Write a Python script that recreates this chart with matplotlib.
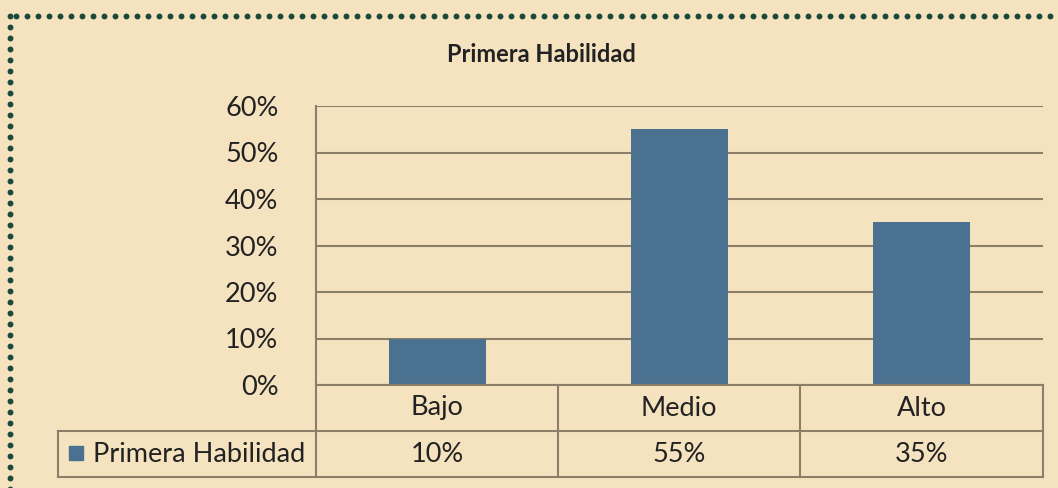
import matplotlib
matplotlib.use("Agg")
import matplotlib.pyplot as plt
import numpy as np
from matplotlib.patches import Rectangle

categories = ["Bajo", "Medio", "Alto"]
values = [0.10, 0.55, 0.35]
series_name = "Primera Habilidad"
title = "Primera Habilidad"
yticks = [0.0, 0.1, 0.2, 0.3, 0.4, 0.5, 0.6]

W, H = 1058, 488
BG = "#F5E3C0"
BAR = "#4A718F"
LINE = "#8C7F68"
TXT = "#222222"
FONT = "Lato"
FS = 19.5

fig = plt.figure(figsize=(W / 100, H / 100), dpi=100, facecolor=BG)

def fx(px):
    return px / W

def fy(py):
    return 1 - py / H

# plot area
L, R, T, B = 316, 1043, 106, 385
ax = fig.add_axes([fx(L), fy(B), fx(R - L), (B - T) / H])
ax.set_facecolor(BG)
x = list(range(len(categories)))
ax.bar(x, values, width=0.4, color=BAR, zorder=3)
ax.set_xlim(-0.5, len(categories) - 0.5)
ax.set_ylim(0, 0.6)
ax.set_yticks(yticks)
ax.set_yticklabels([f"{int(round(v * 100))}%" for v in yticks],
                   fontsize=FS, family=FONT, color=TXT)
ax.tick_params(axis="y", length=0, pad=27)
ax.set_xticks([])
for s in ["top", "right", "bottom"]:
    ax.spines[s].set_visible(False)
ax.spines["left"].set_color(LINE)
ax.spines["left"].set_linewidth(1.5)
ax.yaxis.grid(True, color=LINE, linewidth=1.5, zorder=0)
ax.set_axisbelow(True)

# title
fig.text(fx(541), fy(55), title, ha="center", va="center",
         fontsize=17, fontweight="bold", family=FONT, color=TXT)

# data table (pixel coordinate overlay)
tab = fig.add_axes([0, 0, 1, 1], facecolor="none")
tab.set_xlim(0, W)
tab.set_ylim(H, 0)
tab.axis("off")
lw = 1.5
col_x = [316, 558, 800, 1043]
tab.plot([316, 1043], [385, 385], color=LINE, lw=lw)
tab.plot([58, 1043], [431, 431], color=LINE, lw=lw)
tab.plot([58, 1043], [477, 477], color=LINE, lw=lw)
tab.plot([58, 58], [431, 477], color=LINE, lw=lw)
for cx in col_x:
    tab.plot([cx, cx], [385, 477], color=LINE, lw=lw)
for i, (c, v) in enumerate(zip(categories, values)):
    xc = (col_x[i] + col_x[i + 1]) / 2
    tab.text(xc, 408, c, ha="center", va="center", fontsize=FS,
             family=FONT, color=TXT)
    tab.text(xc, 454, f"{int(round(v * 100))}%", ha="center", va="center",
             fontsize=FS, family=FONT, color=TXT)
tab.add_patch(Rectangle((69, 446), 14, 14, color=BAR))
tab.text(93, 454, series_name, ha="left", va="center", fontsize=FS,
         family=FONT, color=TXT)

# dotted border
DOT = "#1B4A3A"
top_x = np.concatenate([[10], np.arange(16, W + 6, 11)])
top_y = np.full_like(top_x, 16, dtype=float)
left_y = np.arange(27.3, H + 6, 11)
left_x = np.full_like(left_y, 10)
tab.scatter(top_x, top_y, s=18, color=DOT, linewidths=0, clip_on=False)
tab.scatter(left_x, left_y, s=18, color=DOT, linewidths=0, clip_on=False)

fig.savefig("out.png", dpi=100, facecolor=BG)
